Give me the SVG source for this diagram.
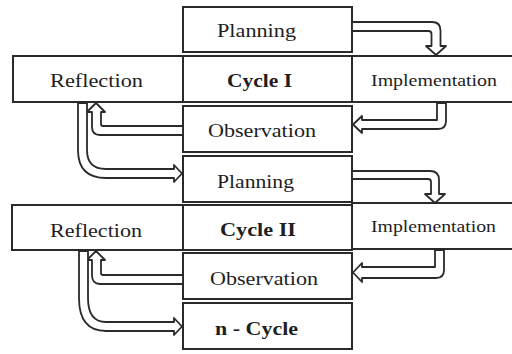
<svg xmlns="http://www.w3.org/2000/svg" width="512" height="354" viewBox="0 0 512 354">
<style>
.box{fill:#fff;stroke:#2a2a2a;stroke-width:2}
.t{font-family:"Liberation Serif","Times New Roman",serif;font-size:19px;fill:#1e1e1e}
.b{font-weight:bold}
.s{font-size:16px}
.arr{fill:#fff;stroke:#2a2a2a;stroke-width:1.8;stroke-linejoin:round}
</style>
<rect width="512" height="354" fill="#fff"/>
<g id="planning1"><rect class="box" x="183" y="7" width="169" height="45"/><text class="t" x="217" y="37" textLength="79" lengthAdjust="spacingAndGlyphs">Planning</text></g>
<g id="reflection1"><rect class="box" x="13" y="56" width="170" height="46"/><text class="t" x="50" y="87" textLength="93" lengthAdjust="spacingAndGlyphs">Reflection</text></g>
<g id="cycle1"><rect class="box" x="183" y="56" width="169" height="46"/><text class="t b" x="227" y="87" textLength="65" lengthAdjust="spacingAndGlyphs">Cycle I</text></g>
<g id="implementation1"><rect class="box" x="352" y="56" width="170" height="46"/><text class="t s" x="371" y="86" textLength="126" lengthAdjust="spacingAndGlyphs">Implementation</text></g>
<g id="observation1"><rect class="box" x="183" y="106" width="169" height="46"/><text class="t" x="208" y="137" textLength="108" lengthAdjust="spacingAndGlyphs">Observation</text></g>
<g id="planning2"><rect class="box" x="183" y="156" width="169" height="46"/><text class="t" x="217" y="188" textLength="77" lengthAdjust="spacingAndGlyphs">Planning</text></g>
<g id="reflection2"><rect class="box" x="12" y="205" width="171" height="45"/><text class="t" x="50" y="237" textLength="92" lengthAdjust="spacingAndGlyphs">Reflection</text></g>
<g id="cycle2"><rect class="box" x="183" y="205" width="169" height="45"/><text class="t b" x="220" y="236" textLength="76" lengthAdjust="spacingAndGlyphs">Cycle II</text></g>
<g id="implementation2"><rect class="box" x="352" y="203" width="170" height="46"/><text class="t s" x="371" y="232" textLength="125" lengthAdjust="spacingAndGlyphs">Implementation</text></g>
<g id="observation2"><rect class="box" x="183" y="253" width="169" height="46"/><text class="t" x="210" y="285" textLength="108" lengthAdjust="spacingAndGlyphs">Observation</text></g>
<g id="ncycle"><rect class="box" x="183" y="303" width="169" height="46"/><text class="t b" x="215" y="335" textLength="83" lengthAdjust="spacingAndGlyphs">n - Cycle</text></g>
<g id="connectors">
<path class="arr" d="M352,22 H432 Q440.5,22 440.5,30.5 V46 H446 L436,55 L426,46 H431.5 V34 Q431.5,31 428.5,31 H352 Z"/>
<path class="arr" d="M437,103 V120 H362 V116 L353,124.5 L362,133 V129 H438 Q446,129 446,121 V103 Z"/>
<path class="arr" d="M183,126 H103 Q101,126 101,124 V112 H105 L96,103 L87,112 H92 V127 Q92,135 100,135 H183 Z"/>
<path class="arr" d="M78,103 V150 Q78,178 106,178 H174 V182 L182,173.5 L174,165 V169 H106 Q87,169 87,150 V103 Z"/>
<path class="arr" d="M352,171 H430 Q439,171 439,180 V194 H445 L435,203 L425,194 H431 V182 Q431,179 428,179 H352 Z"/>
<path class="arr" d="M435,250 V267 H362 V263 L353,272.5 L362,282 V278 H436 Q444,278 444,270 V250 Z"/>
<path class="arr" d="M183,275 H103 Q101,275 101,273 V260 H105 L96,251 L87,260 H92 V275 Q92,284 100,284 H183 Z"/>
<path class="arr" d="M79,251 V298 Q79,331 106,331 H174 V335 L182,326.5 L174,318 V322 H106 Q88,322 88,298 V251 Z"/>
</g>
</svg>
